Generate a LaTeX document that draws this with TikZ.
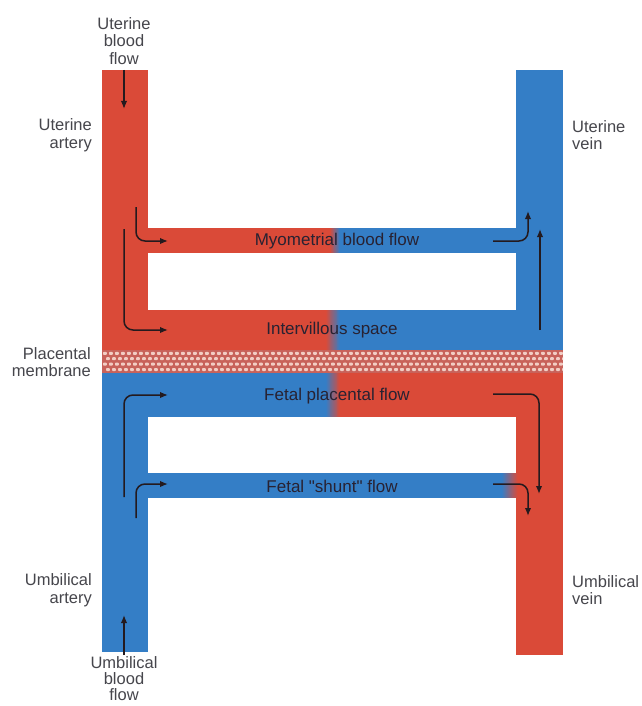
\documentclass[tikz,border=0pt]{standalone}
\usepackage{fontspec}
\setmainfont{Liberation Sans}[Ligatures=TeXReset]
\usetikzlibrary{arrows.meta}
\definecolor{bred}{RGB}{218,74,56}
\definecolor{bblue}{RGB}{52,126,198}
\definecolor{memb}{RGB}{200,98,90}
\definecolor{membdot}{RGB}{242,205,196}
\definecolor{lbl}{RGB}{70,70,76}
\definecolor{ilbl}{RGB}{40,34,50}
\definecolor{arr}{RGB}{36,26,30}
\tikzset{
  outlabel/.style={font=\fontsize{16.5}{17.5}\selectfont, text=lbl, inner sep=0pt},
  inlabel/.style={font=\fontsize{17}{19}\selectfont, text=ilbl, inner sep=0pt},
  flowarrow/.style={draw=arr, line width=1.5pt, rounded corners=9pt, -{Latex[length=8pt,width=6.5pt]}},
}
% gradient band: x0, x1, y0, y1, left colour, right colour
\newcommand{\gradband}[6]{%
  \foreach \i in {0,...,15}{%
    \pgfmathsetmacro{\pp}{100-100*(\i+0.5)/16}%
    \pgfmathsetmacro{\xa}{#1+(#2-#1)*\i/16}%
    \pgfmathsetmacro{\xb}{#1+(#2-#1)*(\i+1)/16+0.4}%
    \fill[#5!\pp!#6] (\xa,#3) rectangle (\xb,#4);%
  }%
}
\begin{document}
\begin{tikzpicture}[x=1pt,y=-1pt]
\useasboundingbox (0,0) rectangle (641,706);
\fill[white] (0,0) rectangle (641,706);
% maternal side (top)
\fill[bred] (102,70) rectangle (148,350);
\fill[bblue] (516,70) rectangle (563,350);
% myometrial channel
\fill[bred] (147,228) rectangle (330,253);
\fill[bblue] (340,228) rectangle (517,253);
\gradband{330}{340}{228}{253}{bred}{bblue}
% intervillous channel
\fill[bred] (147,310) rectangle (326,350);
\fill[bblue] (340,310) rectangle (517,350);
\gradband{326}{340}{310}{350}{bred}{bblue}
% fetal side (bottom)
\fill[bblue] (102,373) rectangle (148,652);
\fill[bred] (516,373) rectangle (563,655);
% fetal placental channel
\fill[bblue] (147,373) rectangle (326,417);
\fill[bred] (340,373) rectangle (517,417);
\gradband{326}{340}{373}{417}{bblue}{bred}
% shunt channel
\fill[bblue] (147,473) rectangle (502,498);
\gradband{502}{518}{473}{498}{bblue}{bred}
% placental membrane
\fill[memb] (102,350) rectangle (563,373);
\begin{scope}
\clip (102,350) rectangle (563,373);
\foreach \r in {0,...,3}{
  \foreach \c in {0,...,76}{
    \pgfmathsetmacro{\xx}{103+\c*6+mod(\r,2)*3}
    \pgfmathsetmacro{\yy}{351.8+\r*5.4}
    \fill[membdot, rounded corners=0.8pt] (\xx,\yy) rectangle ++(3.8,3.0);
  }
}
\end{scope}
% labels outside
\node[outlabel, align=center] (ubf) at (124,41) {Uterine\\blood\\flow};
\node[outlabel, align=right, anchor=east] (ua) at (92,135) {Uterine\\artery};
\node[outlabel, align=left, anchor=west] (uv) at (572,135) {Uterine\\vein};
\node[outlabel, align=right, anchor=east] (pm) at (91,362) {Placental\\membrane};
\node[outlabel, align=right, anchor=east] (umba) at (92,590) {Umbilical\\artery};
\node[outlabel, align=left, anchor=west] (umbv) at (572,590) {Umbilical\\vein};
\node[outlabel, align=center, font=\fontsize{16.5}{16}\selectfont] (umbf) at (124,679) {Umbilical\\blood\\flow};
% labels inside
\node[inlabel] (myo) at (337,241) {Myometrial blood flow};
\node[inlabel] (ivs) at (332,330) {Intervillous space};
\node[inlabel] (fpf) at (337,396) {Fetal placental flow};
\node[inlabel] (fsf) at (332,486) {Fetal "shunt" flow};
% arrow coordinates
\coordinate (a1s) at (124,70);   \coordinate (a1e) at (124,109);
\coordinate (a2s) at (136,207);  \coordinate (a2c) at (136,241); \coordinate (a2e) at (168,241);
\coordinate (a3s) at (124,229);  \coordinate (a3c) at (124,330); \coordinate (a3e) at (168,330);
\coordinate (a4s) at (493,241);  \coordinate (a4c) at (528,241); \coordinate (a4e) at (528,211);
\coordinate (a5s) at (540,330);  \coordinate (a5e) at (540,229);
\coordinate (a6s) at (124,497);  \coordinate (a6c) at (124,395); \coordinate (a6e) at (168,395);
\coordinate (a7s) at (136,518);  \coordinate (a7c) at (136,484); \coordinate (a7e) at (168,484);
\coordinate (a8s) at (493,394);  \coordinate (a8c) at (539,394); \coordinate (a8e) at (539,494);
\coordinate (a9s) at (493,484);  \coordinate (a9c) at (528,484); \coordinate (a9e) at (528,516);
\coordinate (a10s) at (124,655); \coordinate (a10e) at (124,615);
% arrows
\draw[flowarrow] (a1s) -- (a1e);
\draw[flowarrow] (a2s) -- (a2c) -- (a2e);
\draw[flowarrow] (a3s) -- (a3c) -- (a3e);
\draw[flowarrow] (a4s) -- (a4c) -- (a4e);
\draw[flowarrow] (a5s) -- (a5e);
\draw[flowarrow] (a6s) -- (a6c) -- (a6e);
\draw[flowarrow] (a7s) -- (a7c) -- (a7e);
\draw[flowarrow] (a8s) -- (a8c) -- (a8e);
\draw[flowarrow] (a9s) -- (a9c) -- (a9e);
\draw[flowarrow] (a10s) -- (a10e);
\end{tikzpicture}
\end{document}
